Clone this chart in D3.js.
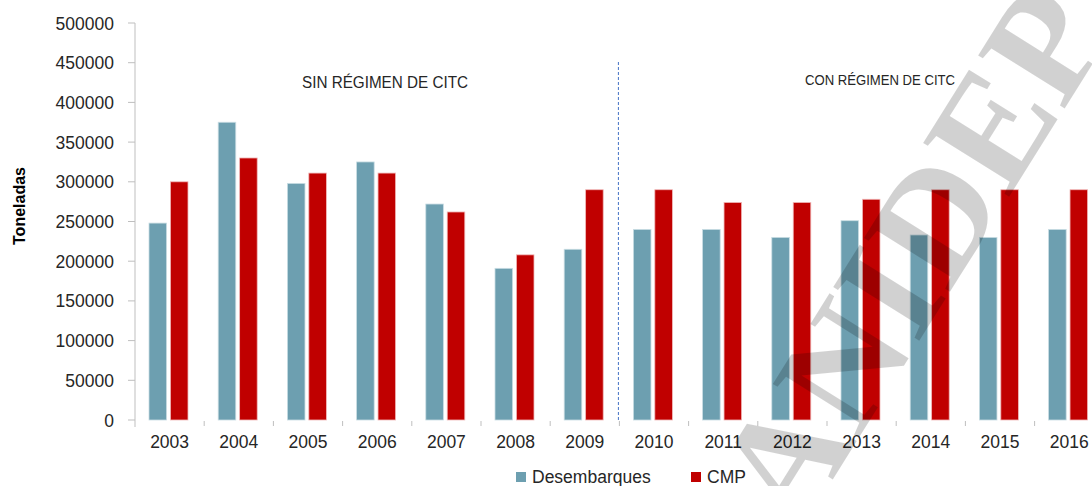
<!DOCTYPE html>
<html>
<head>
<meta charset="utf-8">
<script src="https://cdn.jsdelivr.net/npm/d3@7"></script>
<style>
  body { margin: 0; background: #fff; }
  svg text { font-family: "Liberation Sans", Arial, sans-serif; fill: #262626; }
</style>
</head>
<body>
<script>
const years = ["2003","2004","2005","2006","2007","2008","2009","2010","2011","2012","2013","2014","2015","2016"];
const desembarques = [248000,375000,298000,325000,272000,191000,215000,240000,240000,230000,251000,233000,230000,240000];
const cmp = [300000,330000,311000,311000,262000,208000,290000,290000,274000,274000,278000,290000,290000,290000];
const seriesNames = ["Desembarques","CMP"];
const yTicks = [0,50000,100000,150000,200000,250000,300000,350000,400000,450000,500000];

const w = 1092, h = 486;
const colors = ["#6d9fb0", "#c00000"];
const strokes = ["#c9dde3", "#f0b8b8"];

const svg = d3.select("body").append("svg")
  .attr("width", w)
  .attr("height", h);

const x = d3.scaleBand().domain(years).range([135, 135 + 14 * 69.2]);
const x1 = d3.scaleBand().domain(seriesNames).range([14, 53]).paddingInner(0.18);
const y = d3.scaleLinear().domain([0, 500000]).range([420, 23]);

// y axis
svg.append("line")
  .attr("x1", 135).attr("x2", 135)
  .attr("y1", 23).attr("y2", 427)
  .attr("stroke", "#bfbfbf");
svg.append("g").selectAll("line")
  .data(yTicks)
  .enter().append("line")
  .attr("x1", 128).attr("x2", 135)
  .attr("y1", d => y(d)).attr("y2", d => y(d))
  .attr("stroke", "#bfbfbf");
svg.append("g").selectAll("text")
  .data(yTicks)
  .enter().append("text")
  .attr("x", 114)
  .attr("y", d => y(d) + 6.5)
  .attr("text-anchor", "end")
  .style("font-size", "17.5px")
  .text(d => d);

svg.append("text")
  .attr("transform", "translate(25,206) rotate(-90)")
  .attr("text-anchor", "middle")
  .style("font-size", "16px")
  .style("font-weight", "bold")
  .style("fill", "#000")
  .text("Toneladas");

// x ticks (band edges)
svg.append("g").selectAll("line")
  .data(years.slice(1))
  .enter().append("line")
  .attr("x1", d => x(d)).attr("x2", d => x(d))
  .attr("y1", 421).attr("y2", 426)
  .attr("stroke", "#bfbfbf");
svg.append("g").selectAll("text")
  .data(years)
  .enter().append("text")
  .attr("x", d => x(d) + x.bandwidth() / 2)
  .attr("y", 448)
  .attr("text-anchor", "middle")
  .style("font-size", "17.5px")
  .text(d => d);

// bars
const rows = years.map((yr, i) => ({ year: yr, values: [desembarques[i], cmp[i]] }));
const groups = svg.append("g").selectAll("g")
  .data(rows)
  .enter().append("g")
  .attr("transform", d => "translate(" + x(d.year) + ",0)");
groups.selectAll("rect")
  .data(d => d.values.map((v, k) => ({ name: seriesNames[k], value: v, k: k })))
  .enter().append("rect")
  .attr("x", d => x1(d.name))
  .attr("y", d => y(d.value))
  .attr("width", x1.bandwidth())
  .attr("height", d => y(0) - y(d.value))
  .attr("fill", d => colors[d.k])
  .attr("stroke", d => strokes[d.k])
  .attr("stroke-width", 0.8);

// divider
svg.append("line")
  .attr("x1", x("2010") - 1).attr("x2", x("2010") - 1)
  .attr("y1", 62).attr("y2", 421)
  .attr("stroke", "#4472c4")
  .attr("stroke-width", 1)
  .attr("stroke-dasharray", "3,2");

svg.append("text")
  .attr("x", 302).attr("y", 88)
  .attr("textLength", 166)
  .attr("lengthAdjust", "spacingAndGlyphs")
  .style("font-size", "16px")
  .text("SIN RÉGIMEN DE CITC");
svg.append("text")
  .attr("x", 805).attr("y", 85)
  .attr("textLength", 150)
  .attr("lengthAdjust", "spacingAndGlyphs")
  .style("font-size", "14.5px")
  .text("CON RÉGIMEN DE CITC");

// legend
const legend = svg.append("g").selectAll("g")
  .data(seriesNames)
  .enter().append("g")
  .attr("transform", (d, i) => "translate(" + [516, 691][i] + ",472)");
legend.append("rect")
  .attr("width", 10).attr("height", 10)
  .attr("fill", (d, i) => colors[i]);
legend.append("text")
  .attr("x", 16).attr("y", 11)
  .style("font-size", "17.5px")
  .text(d => d);

// watermark
svg.append("text")
  .attr("transform", "translate(912,256) rotate(-58)")
  .attr("text-anchor", "middle")
  .attr("dy", "0.33em")
  .style("font-family", "'Liberation Serif', 'DejaVu Serif', serif")
  .style("font-weight", "bold")
  .style("font-size", "155px")
  .style("fill", "#000")
  .style("fill-opacity", 0.18)
  .text("ANIDEP");
</script>
</body>
</html>
